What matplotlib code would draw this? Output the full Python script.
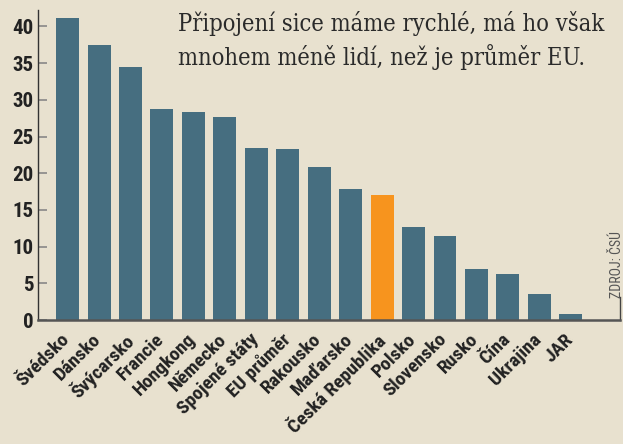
import matplotlib.pyplot as plt
import matplotlib.transforms as mtrans

# data
zeme = ['Švédsko', 'Dánsko', 'Švýcarsko', 'Francie', 'Hongkong', 'Německo',
        'Spojené státy', 'EU průměr', 'Rakousko', 'Maďarsko', 'Česká Republika',
        'Polsko', 'Slovensko', 'Rusko', 'Čína', 'Ukrajina', 'JAR']
hodnoty = [41.2, 37.4, 34.4, 28.7, 28.3, 27.6, 23.5, 23.3, 20.8, 17.8, 17.1,
           12.7, 11.4, 6.9, 6.3, 3.5, 0.8]
zvyraznit = 'Česká Republika'
y_ticks = [0, 5, 10, 15, 20, 25, 30, 35, 40]

bg = '#e8e1cf'
modra = '#466e80'
oranzova = '#f7941e'
uzky = ['Roboto Condensed', 'DejaVu Sans']

fig = plt.figure(figsize=(6.23, 4.44), dpi=100, facecolor=bg)
ax = fig.add_axes([0.0605, 0.279, 0.9345, 0.698], facecolor=bg)

barvy = [oranzova if z == zvyraznit else modra for z in zeme]
x = list(range(len(zeme)))
ax.bar(x, hodnoty, width=0.73, color=barvy, zorder=2)

ax.set_xlim(-0.95, 17.56)
ax.set_ylim(0, 42.2)

ax.set_yticks(y_ticks)
ax.set_yticklabels([str(t) for t in y_ticks], family=uzky, stretch='condensed',
                   fontsize=15, fontweight='bold', color='#222222')
ax.tick_params(axis='y', direction='in', length=6.5, width=1.2, color='#888888', pad=3)

ax.set_xticks(x)
ax.set_xticklabels(zeme, rotation=45, ha='right', va='top', rotation_mode='anchor',
                   family=uzky, stretch='condensed', fontsize=14,
                   fontweight='bold', color='#222222')
ax.tick_params(axis='x', length=0, pad=3)
posun = mtrans.ScaledTranslation(-7 / 100, -6 / 100, fig.dpi_scale_trans)
for lab in ax.get_xticklabels():
    lab.set_transform(lab.get_transform() + posun)

for s in ['top', 'right']:
    ax.spines[s].set_visible(False)
ax.spines['left'].set_color('#333333')
ax.spines['left'].set_linewidth(1.0)
ax.spines['bottom'].set_color('#555555')
ax.spines['bottom'].set_linewidth(1.8)
ax.spines['bottom'].set_zorder(3)

# short right end mark of the base line
ax.plot([1.0, 1.0], [0, 0.075], transform=ax.transAxes, color='#444444',
        linewidth=1.0, clip_on=False)

fig.text(0.286, 0.975, 'Připojení sice máme rychlé, má ho však\nmnohem méně lidí, než je průměr EU.',
         ha='left', va='top', family='DejaVu Serif', stretch='condensed',
         fontsize=17, color='#2a2a2a', linespacing=1.38)

fig.text(0.99, 0.405, 'ZDROJ: ČSÚ', rotation=90, ha='center', va='center',
         family=uzky, stretch='condensed', fontsize=10, color='#555555')

fig.savefig('out.png', dpi=100, facecolor=bg)
